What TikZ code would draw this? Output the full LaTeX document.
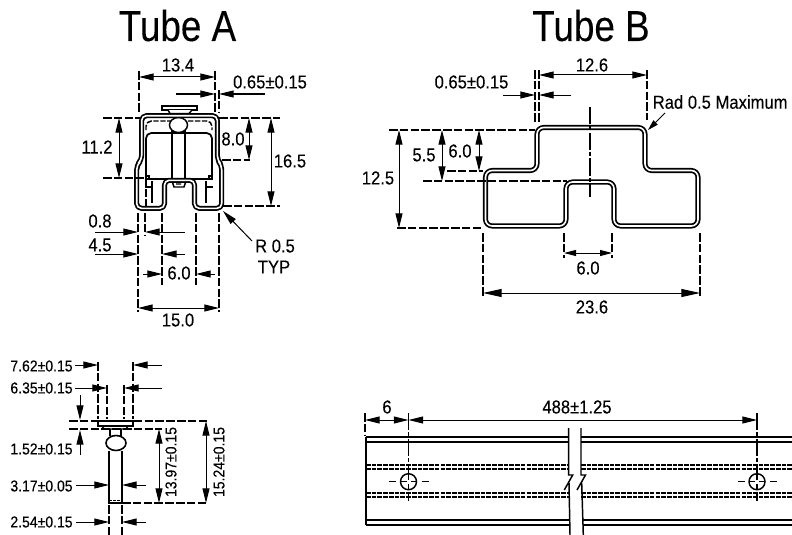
\documentclass[tikz,border=0pt]{standalone}
\usepackage{fontspec}
\setmainfont{Liberation Sans}[FakeStretch=0.89,FakeBold=0.12]
\newfontfamily\titlefont{Liberation Sans}[FakeStretch=0.85,FakeBold=0.1]
\usetikzlibrary{arrows.meta}
\tikzset{
 ink/.style={line width=1.1pt,black},
 ext/.style={line width=0.95pt,black,dash pattern=on 6.5pt off 1.6pt},
 chain/.style={line width=0.95pt,black,dash pattern=on 13pt off 1.6pt on 3pt off 1.6pt},
 dimtwo/.style={line width=0.75pt,{Triangle[length=11pt,width=5.2pt]}-{Triangle[length=11pt,width=5.2pt]}},
 dimone/.style={line width=0.75pt,-{Triangle[length=11pt,width=5.2pt]}},
 tube/.style={line width=1.3pt,double=white,double distance=1.2pt,rounded corners=3.5pt,line join=round},
 lab/.style={inner sep=0pt,font=\fontsize{14}{16}\selectfont},
 pinlab/.style={inner sep=0pt,font=\fontsize{11.8}{14}\selectfont},
 title/.style={inner sep=0pt,anchor=base,font=\titlefont\fontsize{32.5}{34}\selectfont},
 hidden/.style={line width=1.1pt,dash pattern=on 4pt off 1.2pt},
}
\begin{document}
\begin{tikzpicture}[x=0.75pt,y=-0.75pt]
\useasboundingbox (0,0) rectangle (792,535);
\fill[white] (0,0) rectangle (792,535);
\node[title] (ta) at (177.5,41) {Tube A};
\node[title] (tb) at (591,41) {Tube B};

%% ---- Tube A section
\draw[line width=1.3pt,rounded corners=4pt] (146,179) -- (146,133) -- (212,133) -- (212,179);
\draw[ink] (146,179) -- (212,179);
\draw[hidden,rounded corners=4pt] (146,130) -- (146,121) -- (212,121) -- (212,130);
\draw[ink] (172,130) -- (172,179) (185,130) -- (185,179);
\draw[ink,fill=white] (178.5,125) ellipse [x radius=9,y radius=7.5];
\draw[ink,fill=white] (162,106) rectangle (197,110);
\draw[ink,fill=white] (168,110) -- (170,113.5) -- (189,113.5) -- (192,110);
\draw[line width=1.4pt] (152,181) -- (152,203) (145,187) -- (152,187);
\draw[line width=1.4pt] (206,181) -- (206,203) (206,187) -- (213,187);
\draw[ink] (146,176) rectangle (149,179) (209,176) rectangle (212,179);
\draw[ink] (172,181) -- (174,187) -- (184,187) -- (186,181) (176,184) -- (181,184);
\draw[line width=1.1pt,dash pattern=on 6pt off 1.6pt] (146,179) -- (146,206);
% tube
\draw[tube] (141.7,115.7) -- (217.3,115.7) -- (217.3,160) -- (221.7,165) -- (221.7,208.3) -- (194.5,208.3) -- (194.5,180.3) -- (164.5,180.3) -- (164.5,208.3) -- (136.7,208.3) -- (136.7,165) -- (141.7,160) -- cycle;
% extension
\draw[ext] (139,71) -- (139,113) (215,71) -- (215,113) (219,90) -- (219,113);
\draw[ext] (103,118) -- (140,118) (103,178) -- (146,178);
\draw[ext] (219,118) -- (280,118) (222,160) -- (250,160) (223,206) -- (280,206);
\draw[ext] (138,213) -- (138,312) (219,213) -- (219,312) (145,213) -- (145,235) (162,213) -- (162,285) (196,213) -- (196,285);
% dims
\draw[dimtwo] (139,77) -- (215,77);
\node[lab] (a134) at (178,65) {13.4};
\draw[dimone] (176,94) -- (215,94);
\draw[dimone] (265,94) -- (219,94);
\node[lab] (a065) at (270,82) {0.65±0.15};
\draw[dimtwo] (119,118) -- (119,178);
\node[lab] (a112) at (97,147) {11.2};
\draw[dimtwo] (249,118) -- (249,160);
\node[lab] (a80) at (233,139) {8.0};
\draw[dimtwo] (271,118) -- (271,206);
\node[lab] (a165) at (290,161) {16.5};
\node[lab] (a08) at (100,221) {0.8};
\draw[dimone] (95,232) -- (138,232);
\draw[dimone] (185,232) -- (145,232);
\node[lab] (a45) at (100,245) {4.5};
\draw[dimone] (95,254) -- (138,254);
\draw[dimone] (185,254) -- (162,254);
\node[lab] (a60) at (179,273) {6.0};
\draw[dimone] (143,274) -- (162,274);
\draw[dimone] (215,274) -- (196,274);
\draw[dimtwo] (138,308) -- (219,308);
\node[lab] (a150) at (178,320) {15.0};
\node[lab] (ar) at (275,246) {R 0.5};
\node[lab] (atyp) at (274,267) {TYP};
\draw[dimone] (252,241) -- (223,211);

%% ---- Tube B section
\draw[tube,rounded corners=5pt] (537,170.5) -- (537,127.5) -- (645,127.5) -- (645,170.5) -- (698,170.5) -- (698,226) -- (614,226) -- (614,182) -- (566,182) -- (566,226) -- (485.5,226) -- (485.5,170.5) -- cycle;
\draw[chain] (590,107) -- (590,197);
\draw[ext] (535,70) -- (535,122) (539,70) -- (539,122) (647,70) -- (647,120);
\draw[ext] (389,130) -- (535,130) (397,228) -- (483,228) (423,181) -- (567,181) (447,171) -- (483,171);
\draw[ext] (564,233) -- (564,258) (612,233) -- (612,258) (483,233) -- (483,297) (700,233) -- (700,297);
\draw[dimtwo] (539,75) -- (647,75);
\node[lab] (b126) at (592,65) {12.6};
\node[lab] (b065) at (471.5,82) {0.65±0.15};
\draw[dimone] (503,95) -- (535,95);
\draw[dimone] (571,95) -- (539,95);
\node[lab,anchor=west] (brad) at (652.5,102) {Rad 0.5 Maximum};
\draw[line width=0.75pt,-{Triangle[length=8pt,width=4.5pt]}] (665,113) -- (648,130);
\draw[dimtwo] (399,130) -- (399,228);
\node[lab] (b125) at (378,178) {12.5};
\draw[dimtwo] (442,130) -- (442,181);
\node[lab] (b55) at (424,155) {5.5};
\draw[dimtwo] (479,130) -- (479,171);
\node[lab] (b60) at (460,151) {6.0};
\draw[line width=0.75pt,{Triangle[length=9pt,width=4.5pt]}-{Triangle[length=9pt,width=4.5pt]}] (564,253) -- (612,253);
\node[lab] (b60b) at (588,268) {6.0};
\draw[line width=0.75pt,{Triangle[length=14pt,width=6pt]}-{Triangle[length=14pt,width=6pt]}] (483,293) -- (700,293);
\node[lab] (b236) at (592,307) {23.6};

%% ---- Pin
\draw[line width=1.1pt,fill=white] (98,421) rectangle (133,426);
\draw[ink] (102,426) -- (104,429) -- (126,429) -- (128,426);
\draw[line width=1.3pt] (110,429) -- (110,436) (121,429) -- (121,436);
\draw[line width=1.2pt] (116,443) ellipse [x radius=10,y radius=7.5];
\draw[line width=1.4pt] (109,450.5) -- (109,503) -- (122,503) -- (122,450.5);
\draw[line width=0.7pt,dash pattern=on 2pt off 1pt] (109,500) -- (122,500);
\draw[ext] (98,362) -- (98,419) (133,362) -- (133,419) (107,385) -- (107,419) (124,385) -- (124,419);
\draw[ext] (69,421) -- (209,421) (69,429) -- (162,429) (122,503) -- (208,503);
\draw[ext] (109,505) -- (109,535) (122,505) -- (122,535);
\node[pinlab] (p762) at (41.5,366) {7.62±0.15};
\node[pinlab] (p635) at (41.5,388) {6.35±0.15};
\node[pinlab] (p152) at (41.5,449) {1.52±0.15};
\node[pinlab] (p317) at (41.5,486) {3.17±0.05};
\node[pinlab] (p254) at (41.5,522) {2.54±0.15};
\draw[dimone] (75,365) -- (98,365);
\draw[dimone] (162,365) -- (133,365);
\draw[dimone] (75,388) -- (107,388);
\draw[dimone] (162,388) -- (124,388);
\draw[dimone] (80,395) -- (80,420);
\draw[dimone] (80,455) -- (80,430);
\draw[dimone] (76,485) -- (109,485);
\draw[dimone] (146,485) -- (122,485);
\draw[dimone] (76,522) -- (109,522);
\draw[dimone] (146,522) -- (122,522);
\draw[dimtwo] (159,429) -- (159,503);
\draw[dimtwo] (206,421) -- (206,503);
\node[pinlab,rotate=90] (p1397) at (171,462) {13.97±0.15};
\node[pinlab,rotate=90] (p1524) at (219,462) {15.24±0.15};

%% ---- Rail
\draw[line width=1.1pt] (366,437) -- (568.7,437) (581,437) -- (792,437);
\draw[line width=1.4pt] (366,442) -- (568.7,442) (581,442) -- (792,442);
\draw[line width=1.1pt] (366,520) -- (570,520) (583,520) -- (792,520);
\draw[line width=1.4pt] (366,525) -- (570,525) (583,525) -- (792,525);
\draw[line width=1.4pt] (366,437) -- (366,525);
\foreach \yy in {465,469,493,497} {
  \draw[line width=1.1pt,dash pattern=on 3.5pt off 0.8pt] (366,\yy) -- (568.7,\yy) (581,\yy) -- (792,\yy);
}
\draw[line width=1.1pt] (568.7,428) -- (568.7,475) -- (572.7,475) -- (564.3,490) (569,483) -- (570,535);
\draw[line width=1.1pt] (581,428) -- (581,475) -- (585.5,475) -- (577,490) (581.7,483) -- (583.3,535);
\foreach \cx in {408.5,757} {
  \draw[line width=1.1pt] (\cx,481.7) circle [radius=8];
  \draw[line width=0.9pt] (\cx-8,481.7) -- (\cx-2,481.7) (\cx+2,481.7) -- (\cx+8,481.7) (\cx,474) -- (\cx,480) (\cx,484) -- (\cx,490);
  \draw[line width=0.95pt] (\cx,491.5) -- (\cx,501) ;
  \draw[line width=0.95pt] (\cx-19.5,481.7) -- (\cx-12.5,481.7) (\cx+13,481.7) -- (\cx+20,481.7);
  \draw[chain] (\cx,413) -- (\cx,473);
}
\draw[ext] (365,413) -- (365,435);
\draw[dimtwo] (365,420) -- (408.5,420);
\node[lab] (r6) at (387,407) {6};
\draw[dimtwo] (408.5,420) -- (757,420);
\node[lab] (r488) at (577,407) {488±1.25};
\end{tikzpicture}
\end{document}
